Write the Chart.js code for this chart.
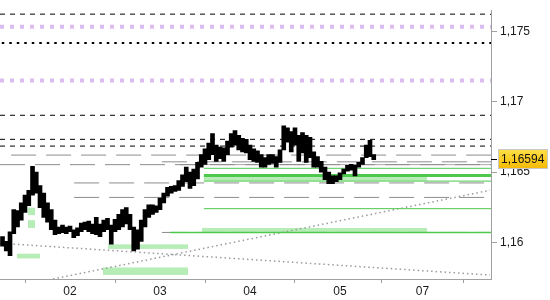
<!DOCTYPE html>
<html>
<head>
<meta charset="utf-8">
<script src="https://cdn.jsdelivr.net/npm/chart.js@4"></script>
<style>
  html, body { margin: 0; padding: 0; background: #fff; }
  #wrap { width: 550px; height: 300px; position: relative; }
</style>
</head>
<body>
<div id="wrap"><canvas id="chart"></canvas></div>
<script>
// ── Data ─────────────────────────────────────────────────
// hourly bars, first one at hour 6 of day 01 (weekend removed)
const firstHour = 6;
const highs = [
  1.16041, 1.16007, 1.16076, 1.16233, 1.16226, 1.16281, 1.16336, 1.16370, 1.16541, 1.16500,
  1.16404, 1.16350, 1.16281, 1.16233, 1.16158, 1.16110, 1.16124, 1.16110, 1.16117, 1.16090,
  1.16103, 1.16137, 1.16144, 1.16151, 1.16131, 1.16178, 1.16131, 1.16158, 1.16172, 1.16124,
  1.16165, 1.16199, 1.16233, 1.16247, 1.16199, 1.16110, 1.16090, 1.16158, 1.16233, 1.16268,
  1.16268, 1.16261, 1.16315, 1.16350, 1.16391, 1.16398, 1.16404, 1.16439, 1.16480, 1.16535,
  1.16500, 1.16521, 1.16569, 1.16624, 1.16665, 1.16706, 1.16774, 1.16692, 1.16678, 1.16672,
  1.16720, 1.16774, 1.16795, 1.16761, 1.16740, 1.16733, 1.16692, 1.16665, 1.16651, 1.16624,
  1.16603, 1.16624, 1.16624, 1.16610, 1.16658, 1.16829, 1.16815, 1.16788, 1.16815, 1.16761,
  1.16781, 1.16761, 1.16747, 1.16644, 1.16610, 1.16576, 1.16535, 1.16500, 1.16473, 1.16473,
  1.16494, 1.16521, 1.16548, 1.16555, 1.16548, 1.16569, 1.16603, 1.16692, 1.16726, 1.16624
];
const lows = [
  1.15973, 1.15939, 1.15905, 1.16062, 1.16110, 1.16158, 1.16213, 1.16261, 1.16336, 1.16350,
  1.16247, 1.16178, 1.16144, 1.16090, 1.16055, 1.16062, 1.16069, 1.16062, 1.16076, 1.16034,
  1.16048, 1.16076, 1.16090, 1.16076, 1.16062, 1.16055, 1.16041, 1.16076, 1.16090, 1.15987,
  1.16076, 1.16090, 1.16110, 1.16131, 1.16090, 1.15939, 1.15952, 1.16007, 1.16110, 1.16178,
  1.16199, 1.16213, 1.16233, 1.16281, 1.16329, 1.16350, 1.16363, 1.16370, 1.16398, 1.16432,
  1.16384, 1.16404, 1.16452, 1.16535, 1.16555, 1.16589, 1.16624, 1.16576, 1.16596, 1.16576,
  1.16624, 1.16678, 1.16692, 1.16658, 1.16644, 1.16637, 1.16589, 1.16576, 1.16569, 1.16535,
  1.16535, 1.16555, 1.16562, 1.16535, 1.16569, 1.16658, 1.16713, 1.16644, 1.16692, 1.16576,
  1.16637, 1.16569, 1.16603, 1.16535, 1.16535, 1.16500, 1.16446, 1.16418, 1.16418, 1.16432,
  1.16446, 1.16487, 1.16507, 1.16514, 1.16473, 1.16535, 1.16555, 1.16603, 1.16610, 1.16589
];
const lastPrice = 1.16594;

const dayTicks  = [24, 48, 72, 96, 118];
const dayLabels = ['02', '03', '04', '05', '07'];
const yTicks    = [1.16, 1.165, 1.17, 1.175];
const yLabels   = ['1,16', '1,165', '1,17', '1,175'];

const blackDashLevels = [1.17623, 1.16904, 1.16733, 1.16685];
const purpleLevels    = [1.17534, 1.17151];
const dottedLevel     = 1.17418;
const grayDashLevels  = [1.16621, 1.16573, 1.16553, 1.16423, 1.16320, 1.16071];
const grayDashStarts  = [8.3, 48.5, 5.33, 25.1, 25.1, 48.5];
const graySolidLevel  = 1.16553;
const greenLevels     = [1.16527, 1.16475, 1.16436, 1.16240, 1.16071];
const greenStarts     = [59.7, 59.7, 59.7, 59.7, 50.7];
// zones: [from hour, to hour, low, high]
const zones = [
  [12.8, 14.67, 1.16194, 1.16247],
  [12.8, 14.67, 1.16103, 1.16158],
  [9.87, 16.0, 1.15886, 1.15920],
  [34.13, 55.47, 1.15954, 1.15986],
  [32.8, 55.47, 1.15769, 1.15822],
  [59.7, 119.2, 1.16438, 1.16479],
  [59.2, 119.2, 1.16075, 1.16103]
];
// trend lines: [hour1, price1, hour2, price2]
const trendLines = [
  [19.47, 1.15740, 136.0, 1.16371],
  [5.33, 1.15994, 136.0, 1.15768]
];

const xMin = 5.33, xMax = 136.27;
const yMin = 1.15740, yMax = 1.17651;

// ── Build datasets ───────────────────────────────────────
const hLine = (from, level, color, width, dash, order) => ({
  type: 'line',
  data: [{ x: from, y: level }, { x: xMax, y: level }],
  borderColor: color,
  borderWidth: width,
  borderDash: dash,
  pointRadius: 0,
  fill: false,
  order,
});

const datasets = [];
datasets.push({
  type: 'bar',
  data: highs.map((h, i) => ({ x: firstHour + i, y: [lows[i], h] })),
  backgroundColor: '#000',
  barThickness: 4,
  order: 0,
});
blackDashLevels.forEach(v => datasets.push(hLine(xMin, v, '#000', 1, [5, 5], 3)));
purpleLevels.forEach(v => datasets.push(hLine(xMin, v, '#dcbdf0', 4, [4, 6], 3)));
datasets.push(hLine(5.8, dottedLevel, '#000', 2, [2.5, 5], 3));
grayDashLevels.forEach((v, i) => datasets.push(hLine(grayDashStarts[i], v, '#8c8c8c', 1, [25, 10], 2)));
datasets.push(hLine(53.3, graySolidLevel, '#a8a8a8', 1, [], 2));
const greenWidths = [1, 3, 1, 1, 1.5];
greenLevels.forEach((v, i) => datasets.push(hLine(greenStarts[i], v, '#4ec94e', greenWidths[i], [], 1)));
trendLines.forEach(t => datasets.push({
  type: 'line',
  data: [{ x: t[0], y: t[1] }, { x: t[2], y: t[3] }],
  borderColor: '#9a9a9a',
  borderWidth: 1.5,
  borderDash: [1.5, 3],
  pointRadius: 0,
  fill: false,
  order: 4,
}));

// ── Plugins ──────────────────────────────────────────────
const zonePlugin = {
  id: 'zones',
  beforeDatasetsDraw(chart) {
    const { ctx, scales: { x, y } } = chart;
    ctx.save();
    ctx.fillStyle = '#b6ecb6';
    zones.forEach(z => {
      const x0 = x.getPixelForValue(z[0]), x1 = x.getPixelForValue(z[1]);
      const y0 = y.getPixelForValue(z[3]), y1 = y.getPixelForValue(z[2]);
      ctx.fillRect(x0, y0, x1 - x0, y1 - y0);
    });
    ctx.restore();
  },
};

const priceTag = {
  id: 'priceTag',
  afterDraw(chart) {
    const { ctx, scales: { y } } = chart;
    const py = Math.round(y.getPixelForValue(lastPrice));
    const left = y.left;
    ctx.save();
    ctx.strokeStyle = '#000';
    ctx.lineWidth = 1;
    ctx.beginPath();
    ctx.moveTo(left, py + 0.5);
    ctx.lineTo(left + 6, py + 0.5);
    ctx.stroke();
    const bx = left + 7, bw = 50, bh = 20, by = py - 10;
    const g = ctx.createLinearGradient(0, by, 0, by + bh);
    g.addColorStop(0, '#ffe14a');
    g.addColorStop(1, '#f4b800');
    ctx.fillStyle = g;
    ctx.fillRect(bx, by, bw, bh);
    ctx.strokeStyle = '#c8c8c8';
    ctx.strokeRect(bx + 0.5, by + 0.5, bw - 1, bh - 1);
    ctx.fillStyle = '#111';
    ctx.font = '12px "Liberation Sans", Arial, sans-serif';
    ctx.textBaseline = 'middle';
    ctx.fillText(lastPrice.toFixed(5).replace('.', ','), bx + 3, py + 1);
    ctx.restore();
  },
};

// ── Chart ────────────────────────────────────────────────
Chart.defaults.font.family = "'Liberation Sans', Arial, sans-serif";
Chart.defaults.font.size = 12;
Chart.defaults.color = '#1a1a1a';

new Chart(document.getElementById('chart').getContext('2d'), {
  data: { datasets },
  options: {
    responsive: true,
    maintainAspectRatio: false,
    animation: false,
    layout: { padding: 0 },
    plugins: { legend: { display: false }, tooltip: { enabled: false } },
    scales: {
      x: {
        type: 'linear',
        min: xMin,
        max: xMax,
        offset: false,
        afterBuildTicks: s => { s.ticks = dayTicks.map(v => ({ value: v })); },
        afterFit: s => { s.height = 21; },
        grid: { drawOnChartArea: false, drawTicks: true, tickLength: 4, color: '#a0a0a0' },
        border: { display: true, color: '#a0a0a0' },
        ticks: {
          autoSkip: false,
          maxRotation: 0,
          padding: 1,
          callback: v => dayLabels[dayTicks.indexOf(v)],
        },
      },
      y: {
        type: 'linear',
        position: 'right',
        min: yMin,
        max: yMax,
        afterBuildTicks: s => { s.ticks = yTicks.map(v => ({ value: v })); },
        afterFit: s => { s.width = 59; },
        grid: { drawOnChartArea: false, drawTicks: true, tickLength: 6, color: '#a0a0a0' },
        border: { display: true, color: '#a0a0a0' },
        ticks: {
          padding: 3,
          callback: v => yLabels[yTicks.indexOf(v)],
        },
      },
    },
  },
  plugins: [zonePlugin, priceTag],
});
</script>
</body>
</html>
